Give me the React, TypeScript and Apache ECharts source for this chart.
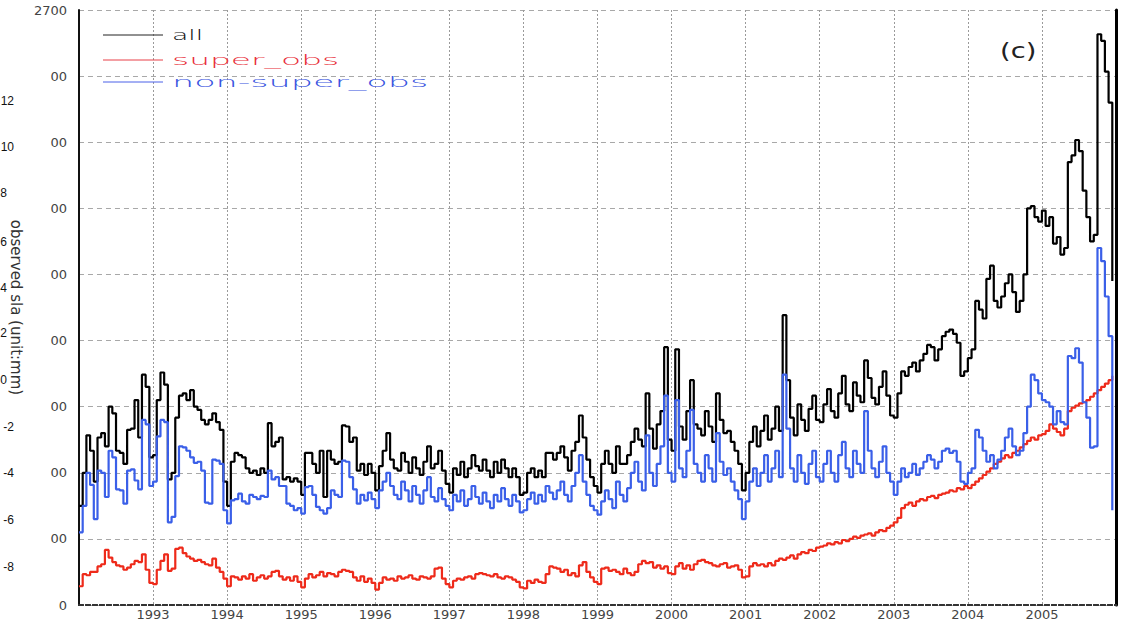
import React, { useEffect, useRef } from "react";
import * as echarts from "echarts";

const startYear = 1992;
const stepYears = 0.05;

const xTickLabels = ["1993", "1994", "1995", "1996", "1997", "1998", "1999", "2000", "2001", "2002", "2003", "2004", "2005"];
const yTickLabels = ["0", "00", "00", "00", "00", "00", "00", "00", "00", "2700"];
const legendNames = ["all", "super_obs", "non-super_obs"];
const overlayLabels = ["12", "10", "8", "6", "4", "2", "0", "-2", "-4", "-6", "-8"];

const allValues = [
  450, 600, 770, 700, 560, 760, 780, 720, 900, 870, 700, 690, 640, 795, 800, 930, 760, 1045, 990, 670,
  680, 930, 1055, 1000, 570, 600, 850, 950, 960, 930, 975, 900, 885, 840, 820, 840, 870, 830, 795, 560,
  450, 650, 690, 680, 670, 620, 600, 610, 590, 620, 600, 825, 720, 740, 760, 570, 580, 560, 575, 560,
  500, 690, 690, 640, 600, 700, 490, 700, 660, 640, 650, 815, 810, 740, 760, 610, 640, 590, 640, 600,
  520, 630, 700, 780, 660, 620, 610, 690, 650, 600, 670, 620, 590, 650, 720, 620, 640, 700, 610, 550,
  510, 620, 590, 650, 580, 620, 680, 630, 610, 660, 610, 580, 650, 600, 660, 620, 580, 620, 580, 500,
  510, 600, 620, 580, 610, 580, 690, 690, 660, 690, 720, 670, 610, 700, 740, 860, 760, 660, 580, 540,
  510, 640, 700, 640, 600, 720, 640, 640, 680, 740, 800, 750, 720, 960, 800, 710, 820, 880, 1170, 750,
  700, 1160, 810, 750, 880, 1020, 820, 800, 770, 880, 810, 740, 960, 840, 780, 790, 740, 700, 640, 520,
  600, 740, 810, 720, 790, 860, 750, 800, 900, 790, 1315, 1020, 850, 770, 910, 840, 790, 890, 950, 840,
  830, 910, 980, 880, 850, 960, 1040, 910, 880, 1010, 950, 920, 1110, 1030, 940, 910, 990, 1060, 950, 860,
  850, 960, 1060, 1040, 1080, 1100, 1060, 1110, 1140, 1180, 1170, 1110, 1160, 1220, 1240, 1250, 1230, 1190, 1040, 1060,
  1120, 1160, 1380, 1340, 1300, 1480, 1540, 1380, 1350, 1400, 1460, 1500, 1420, 1330, 1380, 1500, 1800, 1810, 1760, 1740,
  1790, 1720, 1760, 1640, 1670, 1590, 1620, 2010, 2040, 2110, 2060, 1880, 1760, 1650, 1680, 2590, 2560, 2420, 2280, 1470,
];

const superObsValues = [
  85, 140, 135, 150, 150, 175, 185, 250, 215, 195, 180, 175, 160, 170, 185, 200, 195, 230, 160, 100,
  95, 160, 200, 230, 155, 165, 255, 260, 235, 220, 210, 200, 205, 195, 185, 180, 210, 170, 150, 120,
  85, 130, 125, 115, 130, 120, 140, 110, 125, 135, 120, 130, 150, 155, 130, 115, 125, 110, 130, 105,
  80, 120, 140, 125, 135, 150, 130, 145, 140, 130, 150, 160, 155, 150, 125, 110, 130, 105, 120, 100,
  70, 100, 125, 115, 120, 110, 130, 120, 125, 135, 120, 115, 130, 125, 120, 130, 165, 170, 120, 95,
  80, 110, 120, 115, 125, 130, 120, 140, 145, 140, 135, 130, 140, 125, 120, 130, 125, 115, 105, 80,
  75, 110, 100, 115, 105, 100, 140, 175, 170, 165, 150, 160, 135, 145, 130, 180, 195, 150, 125, 105,
  95, 165, 170, 155, 160, 150, 140, 165, 145, 135, 150, 185, 200, 190, 195, 170, 180, 165, 175, 145,
  140, 175, 190, 165, 180, 160, 185, 200, 205, 195, 190, 180, 175, 185, 190, 170, 175, 180, 160, 125,
  130, 175, 190, 180, 185, 175, 190, 180, 200, 210, 205, 215, 225, 210, 230, 240, 235, 250, 245, 260,
  265, 270, 280, 275, 285, 280, 295, 290, 300, 310, 305, 315, 320, 325, 315, 330, 340, 335, 350, 360,
  375, 395, 440, 455, 465, 450, 470, 480, 475, 490, 495, 485, 500, 505, 510, 520, 515, 530, 525, 540,
  530, 545, 560, 575, 590, 605, 620, 640, 650, 665, 680, 670, 690, 700, 715, 730, 745, 760, 750, 770,
  775, 790, 820, 800, 785, 770, 800, 880, 895, 905, 915, 920, 930, 945, 960, 975, 990, 1005, 1020, 1040,
];

const nonSuperObsValues = [
  330, 450, 600, 545, 390, 610, 600, 490, 700, 670, 525, 520, 460, 610, 615, 565, 525, 840, 820, 540,
  560, 765, 840, 830, 375, 400, 585, 720, 715, 700, 670, 645, 650, 610, 465, 460, 660, 655, 640, 430,
  370, 475, 480, 505, 470, 460, 500, 490, 480, 495, 490, 610, 570, 580, 540, 540, 460, 450, 430, 440,
  415, 535, 540, 500, 445, 430, 415, 440, 520, 500, 490, 655, 650, 580, 525, 460, 500, 475, 510, 480,
  440, 520, 560, 600, 540, 500, 480, 560, 520, 470, 540, 500, 460, 520, 580, 490, 470, 530, 480, 450,
  430, 500, 470, 520, 450, 480, 540, 490, 460, 510, 470, 440, 500, 470, 530, 480, 450, 500, 470, 420,
  430, 480, 510, 460, 500, 470, 540, 510, 480, 520, 560, 500, 470, 540, 600, 680, 560, 500, 450, 430,
  410, 470, 520, 480, 440, 560, 500, 470, 530, 600, 650, 560, 520, 770, 600, 540, 640, 720, 950, 600,
  560, 930, 620, 580, 700, 885, 640, 600, 560, 680, 620, 560, 780, 650, 590, 620, 560, 520, 480, 390,
  470, 560, 620, 540, 600, 680, 560, 620, 700, 580, 1045, 800, 620, 560, 680, 600, 550, 640, 700, 580,
  560, 640, 700, 600, 560, 680, 740, 620, 580, 700, 640, 600, 880, 700, 620, 580, 650, 720, 600, 560,
  500, 560, 620, 580, 600, 640, 590, 620, 650, 680, 660, 620, 650, 700, 710, 690, 700, 650, 560, 550,
  600, 620, 795, 760, 700, 650, 680, 620, 660, 700, 760, 800, 720, 680, 700, 780, 900, 1045, 1020, 960,
  930, 920, 900, 820, 880, 830, 820, 1130, 1120, 1165, 1100, 920, 850, 714, 720, 1620, 1560, 1400, 1220, 430,
];

const toPairs = (vals: number[]) =>
  vals.map((v, i) => [Math.round((startYear + i * stepYears) * 100) / 100, v]);

const FONT = "DejaVu Sans";

export default function App() {
  const ref = useRef<HTMLDivElement>(null);

  useEffect(() => {
    if (!ref.current) return;
    const chart = echarts.init(ref.current, undefined, { renderer: "svg" });

    const legendColors = ["#111111", "#e8303a", "#3a55e0"];
    const legendLineColors = ["#222222", "#e84048", "#4a60e8"];
    const legendY = [35, 60, 82];
    const legendScale = [1.9, 2.35, 2.5];
    const legendGraphics: any[] = [];
    legendNames.forEach((name, i) => {
      legendGraphics.push({
        type: "line",
        shape: { x1: 103, y1: legendY[i], x2: 163, y2: legendY[i] },
        style: { stroke: legendLineColors[i], lineWidth: 1 },
        z: 100,
      });
      legendGraphics.push({
        type: "text",
        x: 172,
        y: legendY[i],
        scaleX: legendScale[i],
        style: {
          text: name,
          fill: legendColors[i],
          font: `200 14px "${FONT}"`,
          textAlign: "left",
          textVerticalAlign: "middle",
          align: "left",
          verticalAlign: "middle",
        },
        z: 100,
      });
    });

    const overlayY = [101, 147, 193, 242, 288, 333, 380, 427, 473, 520, 567];
    const overlayRight = [14, 14, 7, 7, 7, 7, 7, 14, 14, 14, 14];
    const overlayGraphics = overlayLabels.map((t, i) => ({
      type: "text",
      x: overlayRight[i],
      y: overlayY[i],
      style: {
        text: t,
        fill: "#111",
        font: `12px "Liberation Sans"`,
        textAlign: "right",
        textVerticalAlign: "middle",
        align: "right",
        verticalAlign: "middle",
      },
      z: 100,
    }));

    const option: any = {
      animation: false,
      backgroundColor: "#ffffff",
      grid: { left: 75, right: 8, top: 10, bottom: 19 },
      xAxis: [
        {
          type: "value",
          min: 1992,
          max: 2006,
          interval: 1,
          position: "bottom",
          axisLine: { show: true, lineStyle: { color: "#222", width: 2, type: [4, 3] } },
          axisTick: { show: false },
          axisLabel: {
            formatter: (v: number) => (xTickLabels.includes(String(v)) ? String(v) : ""),
            color: "#444",
            fontSize: 13,
            fontFamily: FONT,
            margin: 3,
          },
          splitLine: { show: true, lineStyle: { color: "#9a9a9a", type: [2, 2], width: 1 } },
        },
        {
          type: "value",
          min: 1992,
          max: 2006,
          interval: 1,
          position: "top",
          axisLine: { show: true, lineStyle: { color: "#333", width: 2, type: [4, 3] } },
          axisTick: { show: false },
          axisLabel: { show: false },
          splitLine: { show: false },
        },
      ],
      yAxis: [
        {
          type: "value",
          min: 0,
          max: 2700,
          interval: 300,
          position: "left",
          name: "observed sla (unit:mm)",
          nameLocation: "middle",
          nameGap: 45,
          nameRotate: -90,
          nameTextStyle: { color: "#333", fontSize: 15, fontFamily: FONT },
          axisLine: { show: true, lineStyle: { color: "#111", width: 2 } },
          axisTick: { show: false },
          axisLabel: {
            formatter: (v: number) => yTickLabels[Math.round(v / 300)] ?? "",
            color: "#444",
            fontSize: 13,
            fontFamily: FONT,
            margin: 12,
          },
          splitLine: { show: true, lineStyle: { color: "#a8a8a8", type: [5, 4], width: 1 } },
        },
        {
          type: "value",
          min: 0,
          max: 2700,
          interval: 300,
          position: "right",
          axisLine: { show: true, lineStyle: { color: "#000", width: 3 } },
          axisTick: { show: false },
          axisLabel: { show: false },
          splitLine: { show: false },
        },
      ],
      series: [
        {
          name: legendNames[0],
          type: "line",
          step: "end",
          data: toPairs(allValues),
          showSymbol: false,
          lineStyle: { color: "#000000", width: 2.2 },
          itemStyle: { color: "#000000" },
          z: 2,
        },
        {
          name: legendNames[1],
          type: "line",
          step: "end",
          data: toPairs(superObsValues),
          showSymbol: false,
          lineStyle: { color: "#ee2a1a", width: 2.2 },
          itemStyle: { color: "#ee2a1a" },
          z: 3,
        },
        {
          name: legendNames[2],
          type: "line",
          step: "end",
          data: toPairs(nonSuperObsValues),
          showSymbol: false,
          lineStyle: { color: "#3a5fe8", width: 2.2 },
          itemStyle: { color: "#3a5fe8" },
          z: 4,
        },
      ],
      graphic: [
        ...legendGraphics,
        ...overlayGraphics,
        {
          type: "text",
          x: 1000,
          y: 51,
          scaleX: 1.3,
          style: {
            text: "(c)",
            fill: "#222",
            font: `21px "${FONT}"`,
            textAlign: "left",
            textVerticalAlign: "middle",
            align: "left",
            verticalAlign: "middle",
          },
          z: 100,
        },
      ],
    };

    chart.setOption(option);
    return () => chart.dispose();
  }, []);

  return (
    <div
      ref={ref}
      style={{ position: "fixed", left: 0, top: 0, width: 1124, height: 624, background: "#fff" }}
    />
  );
}
